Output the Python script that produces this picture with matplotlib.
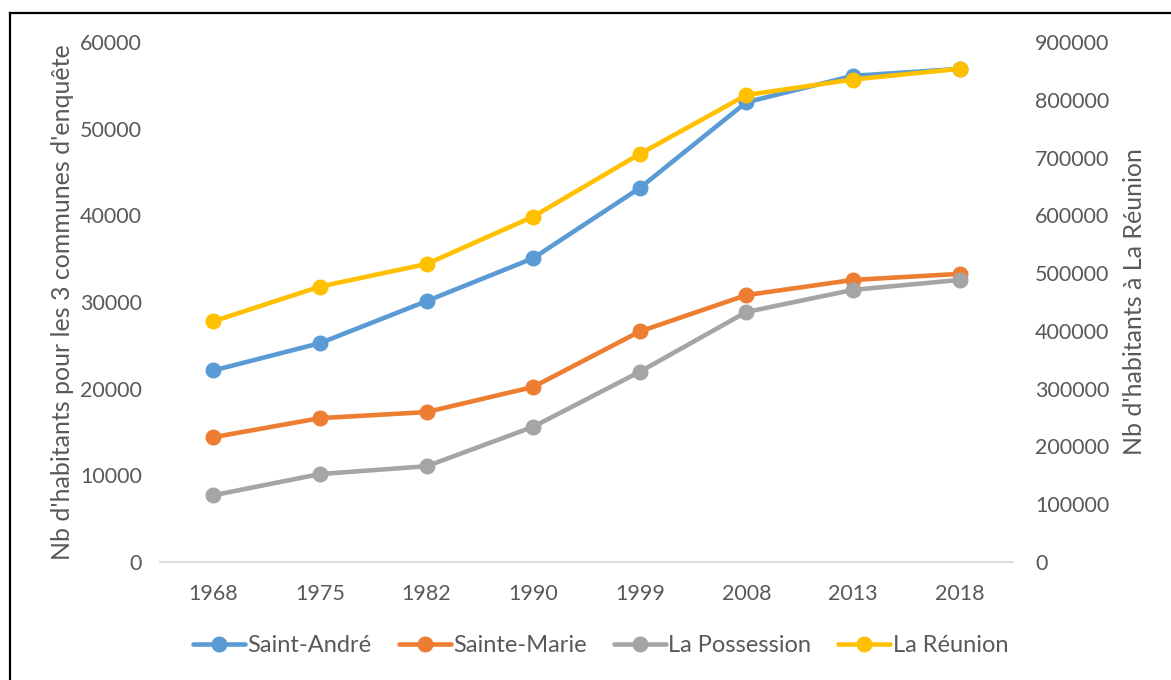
import numpy as np
import matplotlib.pyplot as plt
from matplotlib.lines import Line2D

plt.rcParams['font.family'] = ['Lato', 'DejaVu Sans']

# données
annees = ['1968', '1975', '1982', '1990', '1999', '2008', '2013', '2018']
saint_andre = [22100, 25250, 30100, 35050, 43150, 53050, 56100, 56900]
sainte_marie = [14400, 16600, 17300, 20200, 26600, 30800, 32550, 33250]
la_possession = [7700, 10150, 11050, 15600, 21950, 28850, 31400, 32550]
la_reunion = [416500, 476700, 515800, 597800, 706200, 808300, 835100, 853700]

gris_txt = '#595959'
fs = 15.5

fig = plt.figure(figsize=(11.71, 6.8), dpi=100)
ax = fig.add_axes([0.1366, 0.1735, 0.7284, 0.7647])
ax2 = ax.twinx()

x = np.arange(len(annees))
kw = dict(lw=3.3, marker='o', ms=10.5, solid_capstyle='round')
l1, = ax.plot(x, saint_andre, color='#5B9BD5', label='Saint-André', **kw)
l2, = ax.plot(x, sainte_marie, color='#ED7D31', label='Sainte-Marie', **kw)
l3, = ax.plot(x, la_possession, color='#A5A5A5', label='La Possession', **kw)
l4, = ax2.plot(x, la_reunion, color='#FFC000', label='La Réunion', **kw)

ax.set_xlim(-0.5, len(annees) - 0.5)
ax.set_ylim(0, 60000)
ax2.set_ylim(0, 900000)
ax.set_yticks(np.arange(0, 60001, 10000))
ax2.set_yticks(np.arange(0, 900001, 100000))
ax.set_xticks(x)
ax.set_xticklabels(annees)

for a in (ax, ax2):
    for s in a.spines.values():
        s.set_visible(False)
    a.tick_params(length=0, colors=gris_txt, labelsize=fs)
ax.spines['bottom'].set_visible(True)
ax.spines['bottom'].set_color('#D9D9D9')
ax.spines['bottom'].set_linewidth(1.3)
ax.tick_params(axis='y', pad=13)
ax.tick_params(axis='x', pad=16)
ax2.tick_params(axis='y', pad=16)

fig.text(0.053, 0.556, "Nb d'habitants pour les 3 communes d'enquête", rotation=90,
         ha='center', va='center', fontsize=18, color=gris_txt)
fig.text(0.969, 0.556, "Nb d'habitants à La Réunion", rotation=90,
         ha='center', va='center', fontsize=18, color=gris_txt)

fig.legend(handles=[l1, l2, l3, l4], loc='center', bbox_to_anchor=(0.513, 0.05),
           ncol=4, frameon=False, fontsize=17, labelcolor=gris_txt,
           handlelength=2.2, handletextpad=0.1, columnspacing=1.15)

# cadre
fig.add_artist(Line2D([0.0085, 0.0085], [0.0, 0.981], color='black', lw=1.6))
fig.add_artist(Line2D([0.0085, 1.0], [0.981, 0.981], color='black', lw=1.6))

plt.savefig('out.png', dpi=100)
